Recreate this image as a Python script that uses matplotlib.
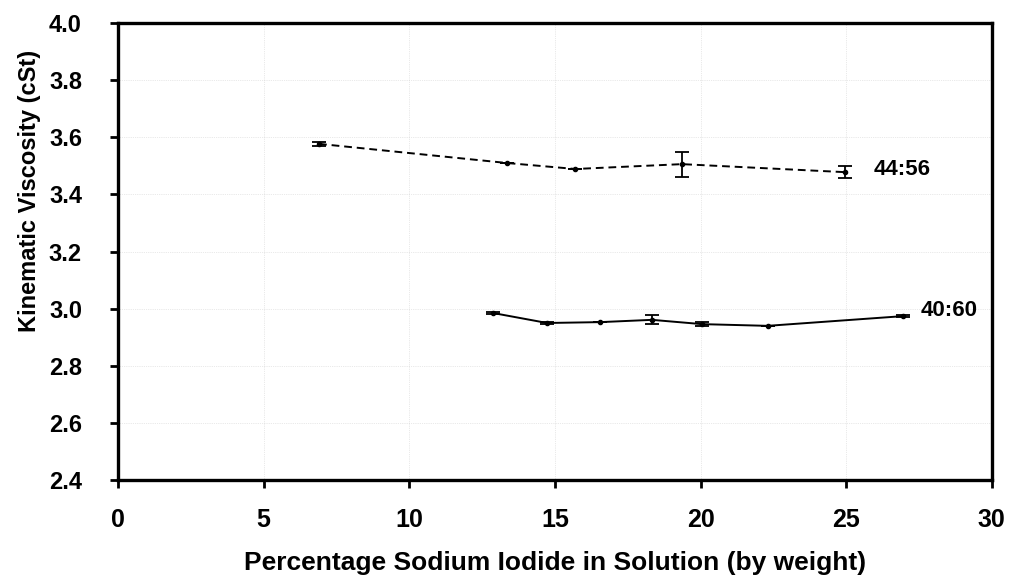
import matplotlib.pyplot as plt

plt.rcParams['font.family'] = ['Liberation Sans', 'DejaVu Sans']
plt.rcParams['font.weight'] = 'bold'

# 44:56 series (dashed)
x_4456 = [6.9, 13.35, 15.7, 19.36, 24.95]
y_4456 = [3.577, 3.51, 3.489, 3.506, 3.478]
err_4456 = [0.006, 0.0, 0.0, 0.044, 0.02]

# 40:60 series (solid)
x_4060 = [12.87, 14.73, 16.55, 18.33, 20.05, 22.3, 26.95]
y_4060 = [2.985, 2.95, 2.953, 2.961, 2.946, 2.94, 2.974]
err_4060 = [0.004, 0.004, 0.0, 0.016, 0.008, 0.0, 0.004]

fig = plt.figure(figsize=(10.09, 5.75), dpi=100)
ax = fig.add_axes([0.117, 0.165, 0.866, 0.795])

ax.errorbar(x_4456, y_4456, yerr=err_4456, color='black', ls=(0, (4, 2.5)), lw=1.4,
            marker='o', ms=3, capsize=5, elinewidth=1.3, capthick=1.3)
ax.errorbar(x_4060, y_4060, yerr=err_4060, color='black', ls='-', lw=1.4,
            marker='o', ms=3, capsize=5, elinewidth=1.3, capthick=1.3)

ax.text(x_4456[-1] + 1.0, y_4456[-1] + 0.01, '44:56', fontsize=16, fontweight='bold', va='center')
ax.text(x_4060[-1] + 0.6, y_4060[-1] + 0.02, '40:60', fontsize=16, fontweight='bold', va='center')

ax.set_xlim(0, 30)
ax.set_ylim(2.4, 4.0)
ax.set_xticks(range(0, 31, 5))
ax.set_yticks([2.4 + 0.2 * i for i in range(9)])
ax.set_yticklabels(['%.1f' % (2.4 + 0.2 * i) for i in range(9)])

ax.grid(True, color='#d4d4d4', ls=':', lw=0.5)
ax.set_axisbelow(True)

for sp in ax.spines.values():
    sp.set_linewidth(2.4)

ax.tick_params(axis='x', labelsize=18, width=2, length=6, direction='out', pad=14)
ax.tick_params(axis='y', labelsize=17, width=2, length=6, direction='out', pad=20)
for lab in ax.get_xticklabels() + ax.get_yticklabels():
    lab.set_fontweight('bold')

ax.set_xlabel('Percentage Sodium Iodide in Solution (by weight)', fontsize=19, fontweight='bold', labelpad=14)
ax.set_ylabel('Kinematic Viscosity (cSt)', fontsize=17, fontweight='bold')
ax.yaxis.set_label_coords(-0.088, 0.632)

fig.savefig('out.png', dpi=100)
